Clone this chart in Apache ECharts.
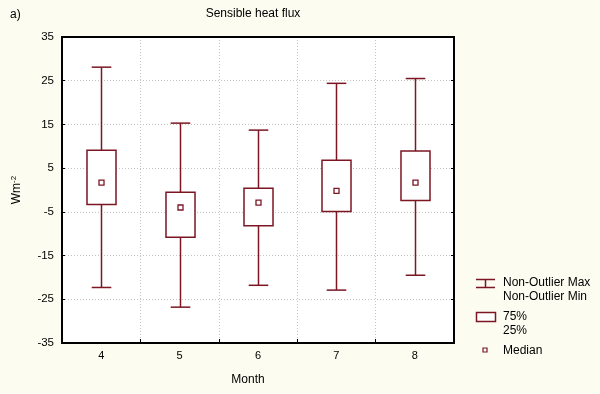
<!DOCTYPE html>
<html>
<head>
<meta charset="utf-8">
<script src="https://cdn.jsdelivr.net/npm/echarts@6/dist/echarts.min.js"></script>
<style>
html,body{margin:0;padding:0;background:#fdfcf0;}
#chart{width:600px;height:394px;}
</style>
</head>
<body>
<div id="chart"></div>
<script>
// Data
var months = ['4', '5', '6', '7', '8'];
var whiskerMax = [28.1, 15.3, 13.7, 24.4, 25.5];
var q75 = [9.1, -0.5, 0.4, 6.8, 8.9];
var medianVals = [1.7, -4.0, -2.9, -0.2, 1.7];
var q25 = [-3.3, -10.8, -8.2, -4.9, -2.4];
var whiskerMin = [-22.3, -26.8, -21.8, -22.9, -19.5];
var yTicks = { min: -35, max: 35, interval: 10 };

var COLOR = '#7b1622';
var FONT = 'Liberation Sans, Arial, sans-serif';

var seriesData = months.map(function (m, i) {
  return [i, whiskerMax[i], q75[i], medianVals[i], q25[i], whiskerMin[i]];
});

function renderItem(params, api) {
  var i = api.value(0);
  var pMax = api.coord([i, api.value(1)]);
  var p75 = api.coord([i, api.value(2)]);
  var pMed = api.coord([i, api.value(3)]);
  var p25 = api.coord([i, api.value(4)]);
  var pMin = api.coord([i, api.value(5)]);
  var bandW = api.size([1, 0])[0];
  var boxW = bandW * 0.37;
  var capW = bandW * 0.25;
  var cx = Math.round(pMax[0]) + 0.5;
  var st = { stroke: COLOR, lineWidth: 1.5, fill: null };
  var ms = 5;
  return {
    type: 'group',
    children: [
      { type: 'line', shape: { x1: cx, y1: pMax[1], x2: cx, y2: p75[1] }, style: st },
      { type: 'line', shape: { x1: cx, y1: p25[1], x2: cx, y2: pMin[1] }, style: st },
      { type: 'line', shape: { x1: cx - capW / 2, y1: pMax[1], x2: cx + capW / 2, y2: pMax[1] }, style: st },
      { type: 'line', shape: { x1: cx - capW / 2, y1: pMin[1], x2: cx + capW / 2, y2: pMin[1] }, style: st },
      { type: 'rect', shape: { x: cx - boxW / 2, y: p75[1], width: boxW, height: p25[1] - p75[1] }, style: { stroke: COLOR, lineWidth: 1.5, fill: '#ffffff' } },
      { type: 'rect', shape: { x: cx - ms / 2, y: pMed[1] - ms / 2, width: ms, height: ms }, style: { stroke: COLOR, lineWidth: 1.3, fill: '#ffffff' } }
    ]
  };
}

var chart = echarts.init(document.getElementById('chart'));
var txt = { fontFamily: FONT, fontSize: 12, fill: '#000' };
var gridLine = { show: true, showMinLine: false, showMaxLine: false, lineStyle: { color: '#c4c4c4', type: [1, 2], width: 1 } };

chart.setOption({
  backgroundColor: '#fdfcf0',
  animation: false,
  title: {
    text: 'Sensible heat flux',
    left: 248, top: 3, textAlign: 'center',
    textStyle: { fontFamily: FONT, fontSize: 12, fontWeight: 'normal', color: '#000' }
  },
  grid: {
    left: 62, right: 146, top: 37, bottom: 51,
    show: true, backgroundColor: '#ffffff', borderColor: '#000', borderWidth: 2
  },
  xAxis: [{
    type: 'category',
    data: months,
    boundaryGap: true,
    name: 'Month',
    nameLocation: 'middle',
    nameGap: 31,
    nameTextStyle: { fontFamily: FONT, fontSize: 12, color: '#000', padding: [0, 20, 0, 0] },
    axisLine: { onZero: false, lineStyle: { color: '#000', width: 2 } },
    axisTick: { show: true, inside: true, length: 4, lineStyle: { color: '#000' } },
    axisLabel: { fontFamily: FONT, fontSize: 11, color: '#000', margin: 7 },
    splitLine: gridLine
  }, {
    type: 'category',
    data: months,
    position: 'top',
    axisLine: { onZero: false, lineStyle: { color: '#000', width: 2 } },
    axisTick: { show: false },
    axisLabel: { show: false },
    splitLine: { show: false }
  }],
  yAxis: [{
    type: 'value',
    min: yTicks.min, max: yTicks.max, interval: yTicks.interval,
    name: '{a|Wm}{b|-2}',
    nameLocation: 'middle',
    nameGap: 38,
    nameRotate: 90,
    nameTextStyle: {
      fontFamily: FONT, color: '#000',
      rich: {
        a: { fontFamily: FONT, fontSize: 12, color: '#000' },
        b: { fontFamily: FONT, fontSize: 8, color: '#000', verticalAlign: 'top', padding: [0, 0, 6, 0] }
      }
    },
    axisLine: { show: true, onZero: false, lineStyle: { color: '#000', width: 2 } },
    axisTick: { show: true, inside: true, length: 3, lineStyle: { color: '#000' } },
    axisLabel: { fontFamily: FONT, fontSize: 11.5, color: '#000', margin: 8 },
    splitLine: gridLine
  }, {
    type: 'value', position: 'right',
    min: yTicks.min, max: yTicks.max, interval: yTicks.interval,
    axisLine: { show: true, onZero: false, lineStyle: { color: '#000', width: 2 } },
    axisTick: { show: true, inside: true, length: 3, lineStyle: { color: '#000' } },
    axisLabel: { show: false },
    splitLine: { show: false }
  }],
  series: [{
    type: 'custom',
    renderItem: renderItem,
    data: seriesData,
    xAxisIndex: 0,
    yAxisIndex: 0,
    encode: { x: 0, y: [1, 2, 3, 4, 5] },
    z: 5
  }],
  graphic: [
    { type: 'text', left: 10, top: 9, style: Object.assign({ text: 'a)' }, txt) },
    // legend: whisker icon
    { type: 'line', shape: { x1: 476, y1: 279.5, x2: 495, y2: 279.5 }, style: { stroke: COLOR, lineWidth: 1.5 } },
    { type: 'line', shape: { x1: 476, y1: 287.5, x2: 495, y2: 287.5 }, style: { stroke: COLOR, lineWidth: 1.5 } },
    { type: 'line', shape: { x1: 485.5, y1: 279.5, x2: 485.5, y2: 287.5 }, style: { stroke: COLOR, lineWidth: 1.5 } },
    { type: 'text', x: 503, y: 283, style: Object.assign({ text: 'Non-Outlier Max', textVerticalAlign: 'middle' }, txt) },
    { type: 'text', x: 503, y: 297, style: Object.assign({ text: 'Non-Outlier Min', textVerticalAlign: 'middle' }, txt) },
    // legend: box icon
    { type: 'rect', shape: { x: 476.5, y: 312.5, width: 19, height: 9 }, style: { stroke: COLOR, lineWidth: 1.5, fill: '#ffffff' } },
    { type: 'text', x: 503, y: 317, style: Object.assign({ text: '75%', textVerticalAlign: 'middle' }, txt) },
    { type: 'text', x: 503, y: 331, style: Object.assign({ text: '25%', textVerticalAlign: 'middle' }, txt) },
    // legend: median icon
    { type: 'rect', shape: { x: 483, y: 348, width: 4, height: 4 }, style: { stroke: COLOR, lineWidth: 1.2, fill: '#ffffff' } },
    { type: 'text', x: 503, y: 351, style: Object.assign({ text: 'Median', textVerticalAlign: 'middle' }, txt) }
  ]
});
</script>
</body>
</html>
